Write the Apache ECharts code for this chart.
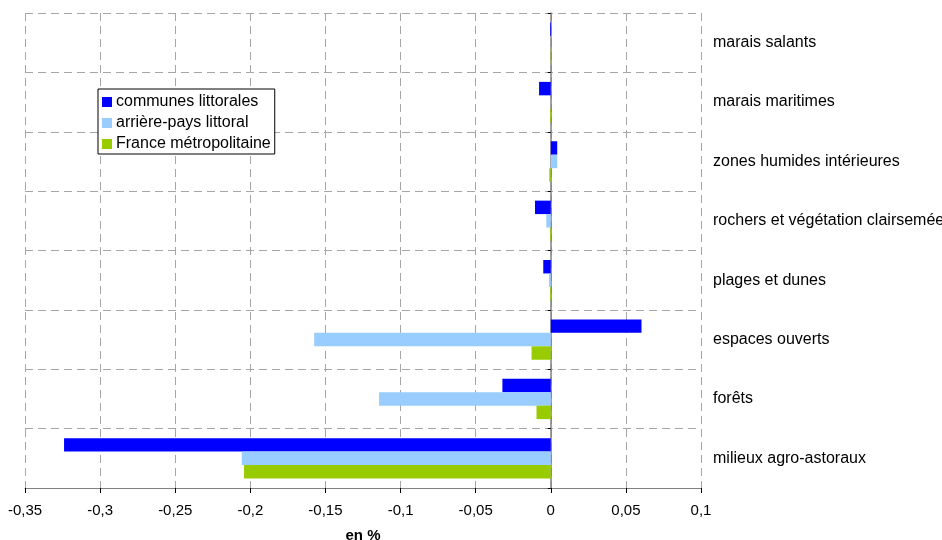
<!DOCTYPE html>
<html>
<head>
<meta charset="utf-8">
<script src="https://cdn.jsdelivr.net/npm/echarts@6/dist/echarts.min.js"></script>
<style>
  html, body { margin: 0; padding: 0; background: #fff; }
  #chart { width: 942px; height: 540px; }
</style>
</head>
<body>
<div id="chart"></div>
<script>
// Land-cover categories, listed top to bottom
const categories = [
  'marais salants',
  'marais maritimes',
  'zones humides intérieures',
  'rochers et végétation clairsemée',
  'plages et dunes',
  'espaces ouverts',
  'forêts',
  'milieux agro-astoraux'
];

// Change in share of each land cover, in %
const communesLittorales = [-0.0005, -0.0078, 0.0043, -0.0105, -0.005, 0.0604, -0.0322, -0.324];
const arrierePays        = [0.0000, 0.0000, 0.0043, -0.0030, -0.0012, -0.1575, -0.1143, -0.2057];
const franceMetro        = [-0.0002, -0.0005, -0.0010, -0.0005, -0.0005, -0.0128, -0.0095, -0.2042];

const seriesNames = ['communes littorales', 'arrière-pays littoral', 'France métropolitaine'];
const seriesColors = ['#0000ff', '#99ccff', '#99cc00'];

// Value axis ticks
const axisMin = -0.35, axisMax = 0.1, axisStep = 0.05;
const tickLabels = ['-0,35', '-0,3', '-0,25', '-0,2', '-0,15', '-0,1', '-0,05', '0', '0,05', '0,1'];

const font = 'Arial, "Liberation Sans", sans-serif';
const gridLine = { show: true, lineStyle: { color: '#a6a6a6', type: [8, 5], width: 1 } };

const chart = echarts.init(document.getElementById('chart'), null, { renderer: 'canvas' });

const seriesData = [communesLittorales, arrierePays, franceMetro];

chart.setOption({
  animation: false,
  backgroundColor: '#ffffff',
  grid: {
    left: 25, right: 241, top: 13, bottom: 52,
    containLabel: false,
    outerBoundsMode: 'none'
  },
  legend: {
    orient: 'vertical',
    left: 98,
    top: 89,
    data: seriesNames,
    icon: 'rect',
    itemWidth: 10,
    itemHeight: 10,
    itemGap: 5,
    padding: [5, 4, 2, 4],
    borderColor: '#000',
    borderWidth: 1,
    backgroundColor: '#fff',
    textStyle: { fontFamily: font, fontSize: 16, color: '#000', lineHeight: 16, padding: [0, 0, 0, -1] }
  },
  xAxis: {
    type: 'value',
    min: axisMin,
    max: axisMax,
    interval: axisStep,
    name: 'en %',
    nameLocation: 'middle',
    nameGap: 40,
    nameTextStyle: { fontFamily: font, fontSize: 15, fontWeight: 'bold', color: '#000' },
    axisLine: { show: true, lineStyle: { color: '#808080', width: 1 } },
    axisTick: { show: true, length: 5, lineStyle: { color: '#000' } },
    axisLabel: {
      fontFamily: font, fontSize: 15, color: '#000', margin: 15,
      formatter: v => tickLabels[Math.round((v - axisMin) / axisStep)]
    },
    splitLine: gridLine
  },
  yAxis: [
    {
      type: 'category',
      data: categories,
      inverse: true,
      axisLine: { show: true, onZero: true, lineStyle: { color: '#808080', width: 1.5 } },
      axisTick: { show: true, length: 3, lineStyle: { color: '#000' } },
      axisLabel: { show: false },
      splitLine: gridLine
    },
    {
      type: 'category',
      data: categories,
      inverse: true,
      position: 'right',
      axisLine: { show: false },
      axisTick: { show: false },
      axisLabel: { fontFamily: font, fontSize: 16, color: '#000', margin: 12, align: 'left' },
      splitLine: { show: false }
    }
  ],
  series: seriesNames.map((name, i) => ({
    name: name,
    type: 'bar',
    yAxisIndex: 0,
    data: seriesData[i],
    barGap: '0%',
    barCategoryGap: '32%',
    itemStyle: { color: seriesColors[i] }
  }))
});
</script>
</body>
</html>
